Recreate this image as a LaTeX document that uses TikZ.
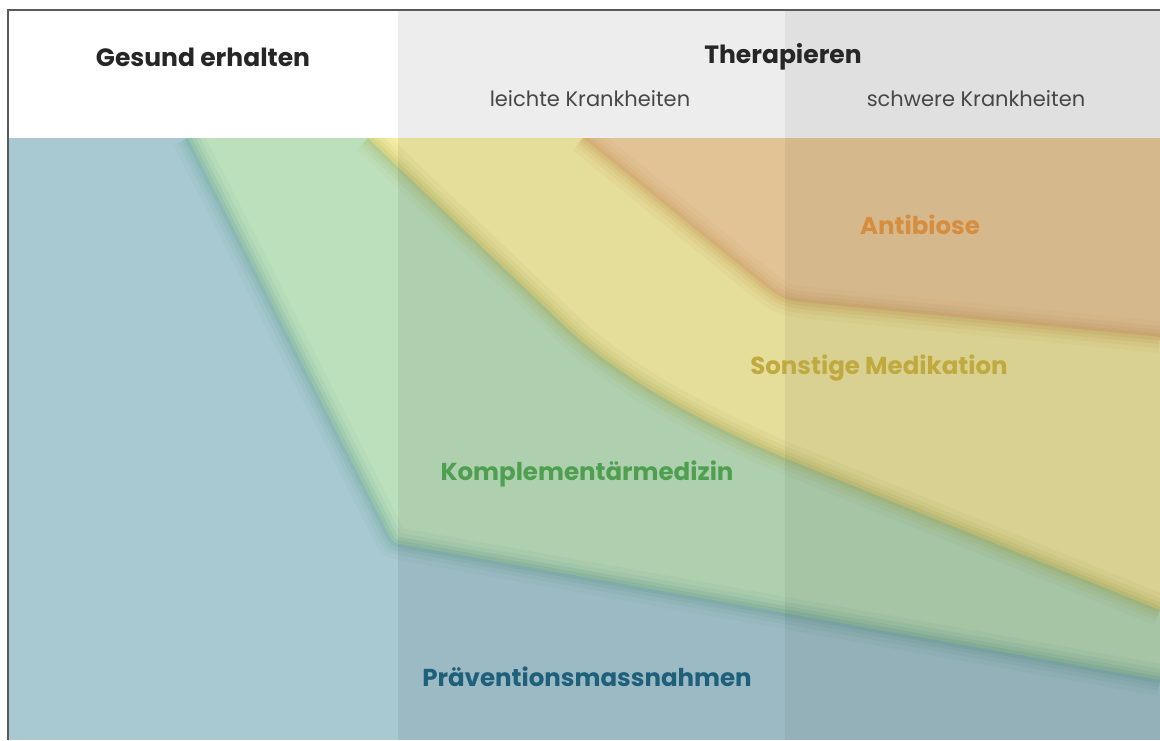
\documentclass[tikz,border=0pt]{standalone}
\usepackage{fontspec}
\setmainfont{Poppins}
\usetikzlibrary{calc}

\definecolor{praev}{RGB}{168,201,210}
\definecolor{kompl}{RGB}{189,224,188}
\definecolor{sonst}{RGB}{247,238,166}
\definecolor{anti}{RGB}{243,210,161}
\definecolor{praevedge}{RGB}{100,160,148}
\definecolor{kompledge}{RGB}{170,180,90}
\definecolor{antiedge}{RGB}{212,165,88}
\definecolor{praevtext}{RGB}{30,95,122}
\definecolor{kompltext}{RGB}{78,160,80}
\definecolor{sonsttext}{RGB}{192,170,62}
\definecolor{antitext}{RGB}{214,142,62}

\tikzset{
  head/.style={font=\bfseries\fontsize{25}{30}\selectfont, text=black!85},
  subhead/.style={font=\fontsize{21}{25}\selectfont, text=black!72},
  bandlabel/.style={font=\bfseries\fontsize{24.5}{29}\selectfont},
}

% boundaries between the bands
\def\praevline{(188,138) -- (388,533) .. controls (393,543) .. (405,545) -- (1160,680)}
\def\kompline{(368,138) -- (567,328) .. controls (627,385) and (730,436) .. (800,464) -- (1160,610)}
\def\antiline{(583,138) -- (760,282) .. controls (783,300) .. (810,303) -- (1160,337)}

\begin{document}
\begin{tikzpicture}[x=1pt,y=-1pt]
    \useasboundingbox (0,0) rectangle (1160,740);
    \fill[white] (0,0) rectangle (1160,740);

    \fill[praev] (9,138) rectangle (1160,740);
    \fill[kompl] \praevline -- (1160,138) -- cycle;
    \fill[sonst] \kompline -- (1160,138) -- cycle;
    \fill[anti] \antiline -- (1160,138) -- cycle;

    % soft edges
    \begin{scope}
        \clip (9,138) rectangle (1160,740);
        \foreach \w/\o in {32/0.07, 22/0.1, 14/0.14, 7/0.18} {
            \draw[praevedge, line width=\w, opacity=\o, line join=round] \praevline;
            \draw[kompledge, line width=\w, opacity=\o, line join=round] \kompline;
            \draw[antiedge, line width=\w, opacity=\o, line join=round] \antiline;
        }
    \end{scope}

    % columns
    \fill[black, opacity=0.07] (398,11) rectangle (1160,740);
    \fill[black, opacity=0.05] (785,11) rectangle (1160,740);

    % frame
    \draw[black!65, line width=2] (8,740) -- (8,10) -- (1160,10);

    \node[head] (gesund) at (203,57) {Gesund erhalten};
    \node[head] (therapie) at (783,57) {Therapieren};
    \node[subhead] (leicht) at (590,99) {leichte Krankheiten};
    \node[subhead] (schwer) at (976,99) {schwere Krankheiten};

    \node[bandlabel, text=antitext] (antibiose) at (920,225) {Antibiose};
    \node[bandlabel, text=sonsttext] (medikation) at (879,368) {Sonstige Medikation};
    \node[bandlabel, text=kompltext] (komplement) at (587,474) {Komplementärmedizin};
    \node[bandlabel, text=praevtext] (praevention) at (587,677) {Präventionsmassnahmen};
\end{tikzpicture}
\end{document}
